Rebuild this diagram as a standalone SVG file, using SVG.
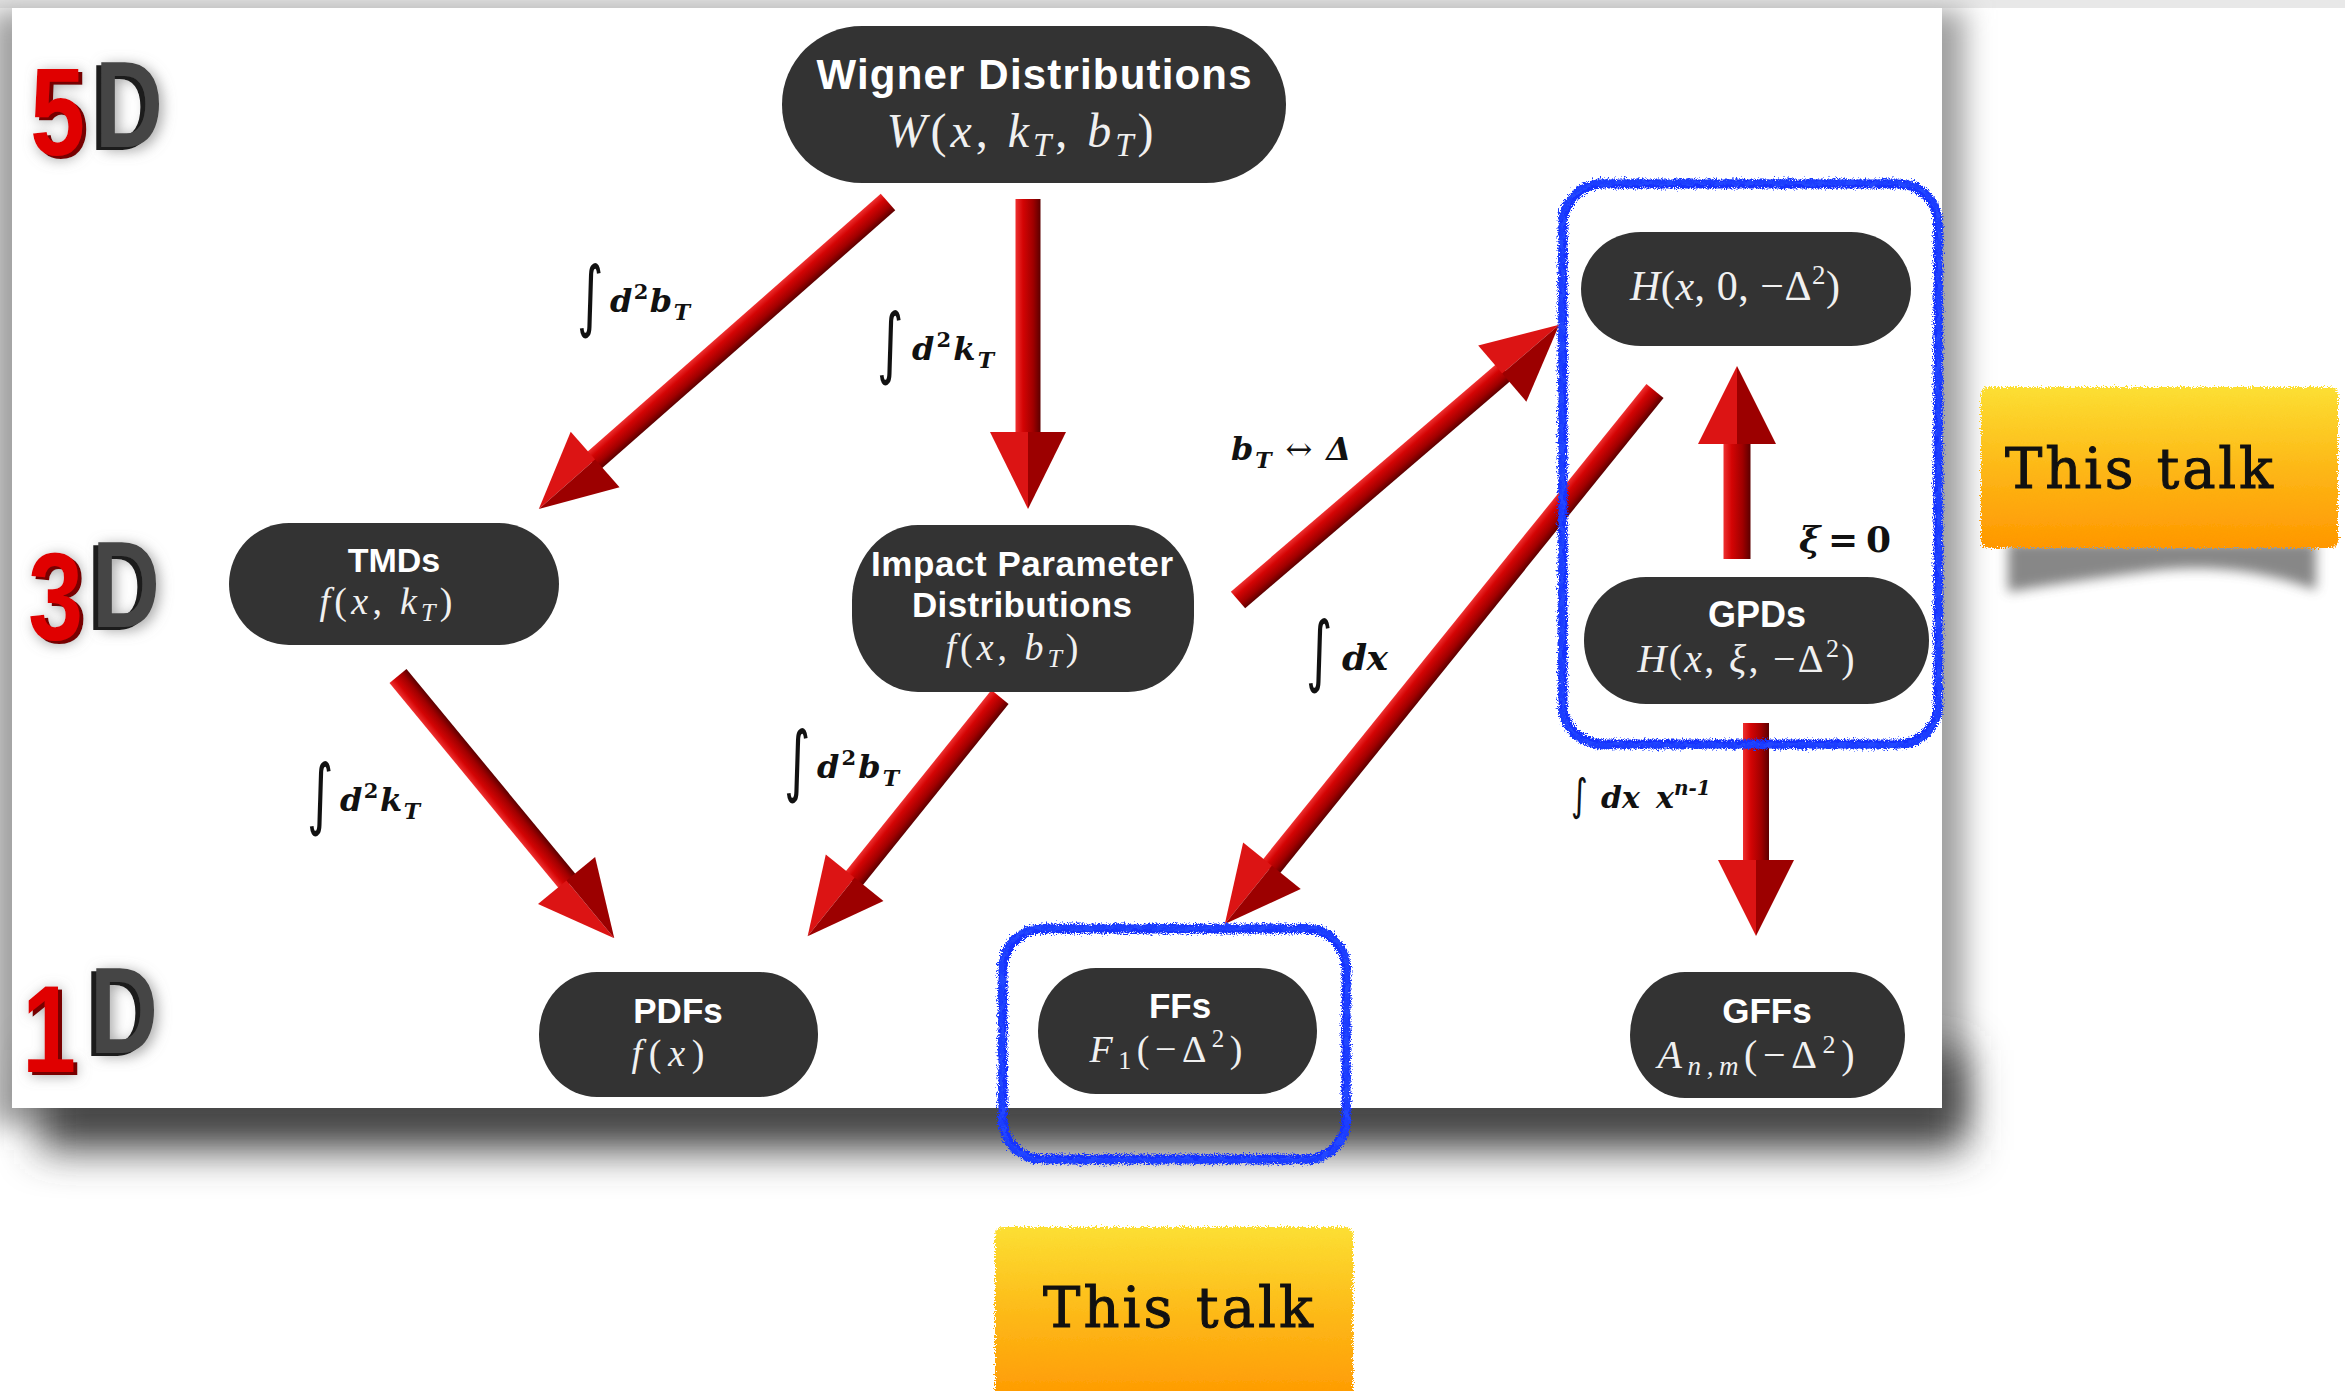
<svg xmlns="http://www.w3.org/2000/svg" width="2345" height="1391" viewBox="0 0 2345 1391">
<defs>
<style>
.node rect{fill:#333333}
.t{font-family:"Liberation Sans",Arial,sans-serif;font-weight:bold;fill:#ffffff;text-anchor:middle}
.m{font-family:"Liberation Serif","Times New Roman",serif;fill:#f0f0f0;text-anchor:middle}
.i{font-style:italic}
.lb{font-family:"DejaVu Serif","Liberation Serif",serif;font-weight:bold;font-style:italic;fill:#111111}
.up{font-style:normal}
.int{font-family:"DejaVu Sans",sans-serif;fill:#111111}
.blue{fill:none;stroke:#1233ff;stroke-width:9;stroke-linejoin:round;filter:url(#rough)}
.blue2{fill:none;stroke:#2447ff;stroke-width:4;filter:url(#rough2)}
.blue3{fill:none;stroke:#1a3cff;stroke-width:5;stroke-dasharray:14 6 22 9;filter:url(#rough3)}
.talk{font-family:"DejaVu Serif",serif;font-size:56px;fill:#111111;stroke:#111111;stroke-width:1}
.lit{fill:#dc1414}
.shade{fill:#9c0000}
.shaft{fill:url(#gShaft)}
.dig{font-family:"Liberation Sans",Arial,sans-serif;font-weight:bold}
.red{fill:#e00000;filter:url(#extRed)}
.gry{fill:#454545;filter:url(#extGray)}
</style>
<linearGradient id="gShaft" x1="0" y1="0" x2="0" y2="1">
<stop offset="0" stop-color="#ee3030"/>
<stop offset="0.3" stop-color="#d40404"/>
<stop offset="0.7" stop-color="#a00000"/>
<stop offset="1" stop-color="#5c0000"/>
</linearGradient>
<linearGradient id="gTalk" x1="0" y1="0" x2="0" y2="1">
<stop offset="0" stop-color="#fcdf33"/>
<stop offset="0.5" stop-color="#fdb817"/>
<stop offset="1" stop-color="#ff9700"/>
</linearGradient>
<filter id="blurSide" filterUnits="userSpaceOnUse" x="-100" y="-100" width="2200" height="1350"><feGaussianBlur stdDeviation="14"/></filter>
<filter id="blurBottom" filterUnits="userSpaceOnUse" x="-100" y="950" width="2200" height="350"><feGaussianBlur stdDeviation="20"/></filter>
<filter id="blurShadow" x="-20%" y="-100%" width="140%" height="300%"><feGaussianBlur stdDeviation="6"/></filter>
<filter id="extRed" x="-40%" y="-40%" width="180%" height="180%">
<feGaussianBlur in="SourceAlpha" stdDeviation="7" result="b"/>
<feOffset in="b" dx="3" dy="3" result="bo"/>
<feFlood flood-color="#8c8c8c" flood-opacity="0.85" result="gc"/>
<feComposite in="gc" in2="bo" operator="in" result="glow"/>
<feOffset in="SourceAlpha" dx="4" dy="3" result="o"/>
<feFlood flood-color="#780000" result="ec"/>
<feComposite in="ec" in2="o" operator="in" result="ext"/>
<feMerge><feMergeNode in="glow"/><feMergeNode in="ext"/><feMergeNode in="SourceGraphic"/></feMerge>
</filter>
<filter id="extGray" x="-40%" y="-40%" width="180%" height="180%">
<feGaussianBlur in="SourceAlpha" stdDeviation="7" result="b"/>
<feOffset in="b" dx="3" dy="3" result="bo"/>
<feFlood flood-color="#8c8c8c" flood-opacity="0.85" result="gc"/>
<feComposite in="gc" in2="bo" operator="in" result="glow"/>
<feOffset in="SourceAlpha" dx="-5" dy="3" result="o"/>
<feFlood flood-color="#1a1a1a" result="ec"/>
<feComposite in="ec" in2="o" operator="in" result="ext"/>
<feMerge><feMergeNode in="glow"/><feMergeNode in="ext"/><feMergeNode in="SourceGraphic"/></feMerge>
</filter>
<filter id="rough" x="-5%" y="-5%" width="110%" height="110%"><feTurbulence type="fractalNoise" baseFrequency="0.9" numOctaves="2" seed="4"/><feDisplacementMap in="SourceGraphic" scale="9" xChannelSelector="R" yChannelSelector="G"/></filter>
<filter id="rough2" x="-5%" y="-5%" width="110%" height="110%"><feTurbulence type="fractalNoise" baseFrequency="0.12" numOctaves="3" seed="9"/><feDisplacementMap in="SourceGraphic" scale="8" xChannelSelector="R" yChannelSelector="G"/></filter>
<filter id="rough3" x="-5%" y="-5%" width="110%" height="110%"><feTurbulence type="fractalNoise" baseFrequency="0.5" numOctaves="2" seed="17"/><feDisplacementMap in="SourceGraphic" scale="12" xChannelSelector="R" yChannelSelector="G"/></filter>
<filter id="torn" x="-5%" y="-10%" width="110%" height="120%"><feTurbulence type="fractalNoise" baseFrequency="0.7" numOctaves="2" seed="2"/><feDisplacementMap in="SourceGraphic" scale="8" xChannelSelector="R" yChannelSelector="G"/></filter>
</defs>

<g id="background">
<rect x="0" y="0" width="2345" height="1391" fill="#ffffff"/>
<rect x="0" y="0" width="2345" height="8" fill="#e8e8e8"/>
<rect x="-10" y="10" width="1975" height="1115" fill="#a0a0a0" filter="url(#blurSide)"/>
<rect x="40" y="1050" width="1925" height="100" fill="#474747" filter="url(#blurBottom)"/>
<rect x="12" y="8" width="1930" height="1100" fill="#ffffff"/>
</g>

<g id="dimension-labels">
<g id="label-5d">
<text class="dig red" x="30" y="155" font-size="124" textLength="55" lengthAdjust="spacingAndGlyphs">5</text>
<text class="dig gry" x="95" y="147" font-size="122" textLength="68" lengthAdjust="spacingAndGlyphs">D</text>
</g>
<g id="label-3d">
<text class="dig red" x="28" y="640" font-size="124" textLength="55" lengthAdjust="spacingAndGlyphs">3</text>
<text class="dig gry" x="92" y="627" font-size="122" textLength="68" lengthAdjust="spacingAndGlyphs">D</text>
</g>
<g id="label-1d">
<text class="dig red" x="22" y="1072" font-size="124" textLength="54" lengthAdjust="spacingAndGlyphs">1</text>
<text class="dig gry" x="90" y="1053" font-size="122" textLength="68" lengthAdjust="spacingAndGlyphs">D</text>
</g>
</g>

<g id="connectors">
<g id="arrow-wigner-tmds" transform="translate(888,202) rotate(138.67) scale(1,-1)">
<rect class="shaft" x="0" y="-11" width="394" height="22"/>
<polygon class="lit" points="390,-37 465,0 390,0"/><polygon class="shade" points="390,37 465,0 390,0"/>
</g>
<g id="arrow-wigner-ipd" transform="translate(1028,199) rotate(90) scale(1,-1)">
<rect class="shaft" x="0" y="-12.5" width="237" height="25"/>
<polygon class="lit" points="233,-38 310,0 233,0"/><polygon class="shade" points="233,38 310,0 233,0"/>
</g>
<g id="arrow-ipd-h" transform="translate(1238,600) rotate(-40.59)">
<rect class="shaft" x="0" y="-11" width="352" height="22"/>
<polygon class="lit" points="348,-37 423,0 348,0"/><polygon class="shade" points="348,37 423,0 348,0"/>
</g>
<g id="arrow-h-ffs" transform="translate(1655,391) rotate(128.9) scale(1,-1)">
<rect class="shaft" x="0" y="-11" width="614" height="22"/>
<polygon class="lit" points="610,-37 685,0 610,0"/><polygon class="shade" points="610,37 685,0 610,0"/>
</g>
<g id="arrow-gpds-h" transform="translate(1737,559) rotate(-90)">
<rect class="shaft" x="0" y="-13.5" width="119" height="27"/>
<polygon class="lit" points="115,-39 193,0 115,0"/><polygon class="shade" points="115,39 193,0 115,0"/>
</g>
<g id="arrow-tmds-pdfs" transform="translate(398,676) rotate(50.5) scale(1,-1)">
<rect class="shaft" x="0" y="-11" width="269" height="22"/>
<polygon class="lit" points="265,-37 340,0 265,0"/><polygon class="shade" points="265,37 340,0 265,0"/>
</g>
<g id="arrow-ipd-pdfs" transform="translate(1000,697) rotate(128.8) scale(1,-1)">
<rect class="shaft" x="0" y="-11" width="236" height="22"/>
<polygon class="lit" points="232,-37 307,0 232,0"/><polygon class="shade" points="232,37 307,0 232,0"/>
</g>
<g id="arrow-gpds-gffs" transform="translate(1756,723) rotate(90) scale(1,-1)">
<rect class="shaft" x="0" y="-13" width="141" height="26"/>
<polygon class="lit" points="137,-38 213,0 137,0"/><polygon class="shade" points="137,38 213,0 137,0"/>
</g>

<g id="connector-labels">
<text class="int" transform="translate(577,322) scale(0.85,1.3)" font-size="60">∫</text>
<text class="lb" x="610" y="312" font-size="32" textLength="80">d<tspan class="up" dy="-13" font-size="21">2</tspan><tspan dy="13">b</tspan><tspan dy="8" font-size="22">T</tspan></text>

<text class="int" transform="translate(877,369) scale(0.85,1.3)" font-size="60">∫</text>
<text class="lb" x="912" y="360" font-size="32" textLength="82">d<tspan class="up" dy="-13" font-size="21">2</tspan><tspan dy="13">k</tspan><tspan dy="8" font-size="22">T</tspan></text>

<text class="lb" x="1231" y="460" font-size="32" textLength="120">b<tspan dy="8" font-size="22">T</tspan><tspan dy="-8" font-weight="normal" class="up"> ↔ </tspan>Δ</text>

<text class="int" transform="translate(1306,677) scale(0.85,1.3)" font-size="60">∫</text>
<text class="lb" x="1342" y="670" font-size="36" textLength="46">dx</text>

<text class="lb" x="1799" y="552" font-size="36" textLength="92">ξ <tspan class="up">= 0</tspan></text>

<text class="int" transform="translate(307,820) scale(0.85,1.3)" font-size="60">∫</text>
<text class="lb" x="340" y="811" font-size="32" textLength="80">d<tspan class="up" dy="-13" font-size="21">2</tspan><tspan dy="13">k</tspan><tspan dy="8" font-size="22">T</tspan></text>

<text class="int" transform="translate(784,787) scale(0.85,1.3)" font-size="60">∫</text>
<text class="lb" x="817" y="778" font-size="32" textLength="82">d<tspan class="up" dy="-13" font-size="21">2</tspan><tspan dy="13">b</tspan><tspan dy="8" font-size="22">T</tspan></text>

<text class="int" transform="translate(1571,810) scale(0.85,1.15)" font-size="38">∫</text>
<text class="lb" x="1601" y="808" font-size="30">dx<tspan x="1656">x</tspan><tspan dy="-13" font-size="20">n-1</tspan></text>
</g>
</g>

<g id="node-wigner" class="node">
<rect x="782" y="26" width="504" height="157" rx="80" ry="78"/>
<text class="t" x="1034" y="89" font-size="42" textLength="435">Wigner Distributions</text>
<text class="m" x="1020" y="147" font-size="48" textLength="267"><tspan class="i">W</tspan>(<tspan class="i">x</tspan>, <tspan class="i">k</tspan><tspan class="i" dy="9" font-size="33">T</tspan><tspan dy="-9">, </tspan><tspan class="i">b</tspan><tspan class="i" dy="9" font-size="33">T</tspan><tspan dy="-9">)</tspan></text>
</g>

<g id="node-tmds" class="node">
<rect x="229" y="523" width="330" height="122" rx="60" ry="61"/>
<text class="t" x="394" y="572" font-size="34">TMDs</text>
<text class="m" x="386" y="614" font-size="38" textLength="133"><tspan class="i">f</tspan>(<tspan class="i">x</tspan>, <tspan class="i">k</tspan><tspan class="i" dy="7" font-size="26">T</tspan><tspan dy="-7">)</tspan></text>
</g>

<g id="node-ipd" class="node">
<rect x="852" y="525" width="342" height="167" rx="66" ry="76"/>
<text class="t" x="1022" y="576" font-size="35" textLength="302">Impact Parameter</text>
<text class="t" x="1022" y="617" font-size="35" textLength="220">Distributions</text>
<text class="m" x="1012" y="660" font-size="38" textLength="133"><tspan class="i">f</tspan>(<tspan class="i">x</tspan>, <tspan class="i">b</tspan><tspan class="i" dy="7" font-size="26">T</tspan><tspan dy="-7">)</tspan></text>
</g>

<g id="node-h" class="node">
<rect x="1581" y="232" width="330" height="114" rx="60" ry="57"/>
<text class="m" x="1735" y="300" font-size="42" textLength="210"><tspan class="i">H</tspan>(<tspan class="i">x</tspan>, 0, −Δ<tspan dy="-16" font-size="27">2</tspan><tspan dy="16">)</tspan></text>
</g>

<g id="node-gpds" class="node">
<rect x="1584" y="577" width="345" height="127" rx="62" ry="63"/>
<text class="t" x="1757" y="627" font-size="36">GPDs</text>
<text class="m" x="1746" y="672" font-size="40" textLength="217"><tspan class="i">H</tspan>(<tspan class="i">x</tspan>, <tspan class="i">ξ</tspan>, −Δ<tspan dy="-15" font-size="26">2</tspan><tspan dy="15">)</tspan></text>
</g>

<g id="node-pdfs" class="node">
<rect x="539" y="972" width="279" height="125" rx="58" ry="62"/>
<text class="t" x="678" y="1023" font-size="35">PDFs</text>
<text class="m" x="668" y="1066" font-size="38" textLength="73"><tspan class="i">f</tspan>(<tspan class="i">x</tspan>)</text>
</g>

<g id="node-ffs" class="node">
<rect x="1038" y="968" width="279" height="126" rx="58" ry="63"/>
<text class="t" x="1180" y="1018" font-size="35">FFs</text>
<text class="m" x="1166" y="1062" font-size="38" textLength="153"><tspan class="i">F</tspan><tspan dy="7" font-size="26">1</tspan><tspan dy="-7">(−Δ</tspan><tspan dy="-15" font-size="25">2</tspan><tspan dy="15">)</tspan></text>
</g>

<g id="node-gffs" class="node">
<rect x="1630" y="972" width="275" height="126" rx="55" ry="63"/>
<text class="t" x="1767" y="1023" font-size="35">GFFs</text>
<text class="m" x="1756" y="1068" font-size="40" textLength="197"><tspan class="i">A</tspan><tspan class="i" dy="7" font-size="27">n,m</tspan><tspan dy="-7">(−Δ</tspan><tspan dy="-15" font-size="26">2</tspan><tspan dy="15">)</tspan></text>
</g>

<g id="highlight-gpd-box">
<rect class="blue" x="1563" y="184" width="375" height="560" rx="40"/>
<rect class="blue2" x="1562" y="183" width="377" height="562" rx="40"/>
<rect class="blue3" x="1561" y="182" width="378" height="564" rx="40"/>
</g>
<g id="highlight-ff-box">
<rect class="blue" x="1003" y="929" width="343" height="230" rx="40"/>
<rect class="blue2" x="1002" y="928" width="345" height="232" rx="40"/>
<rect class="blue3" x="1001" y="927" width="346" height="234" rx="40"/>
</g>

<g id="callout-right">
<path d="M2008,542 L2316,542 L2316,590 Q2240,562 2160,570 Q2080,580 2008,592 Z" fill="#555555" opacity="0.7" filter="url(#blurShadow)"/>
<rect x="1981" y="387" width="357" height="161" rx="8" fill="url(#gTalk)" filter="url(#torn)"/>
<text class="talk" x="2005" y="488" textLength="268">This talk</text>
</g>
<g id="callout-bottom">
<rect x="995" y="1227" width="358" height="180" rx="8" fill="url(#gTalk)" filter="url(#torn)"/>
<text class="talk" x="1043" y="1327" textLength="270">This talk</text>
</g>
</svg>
